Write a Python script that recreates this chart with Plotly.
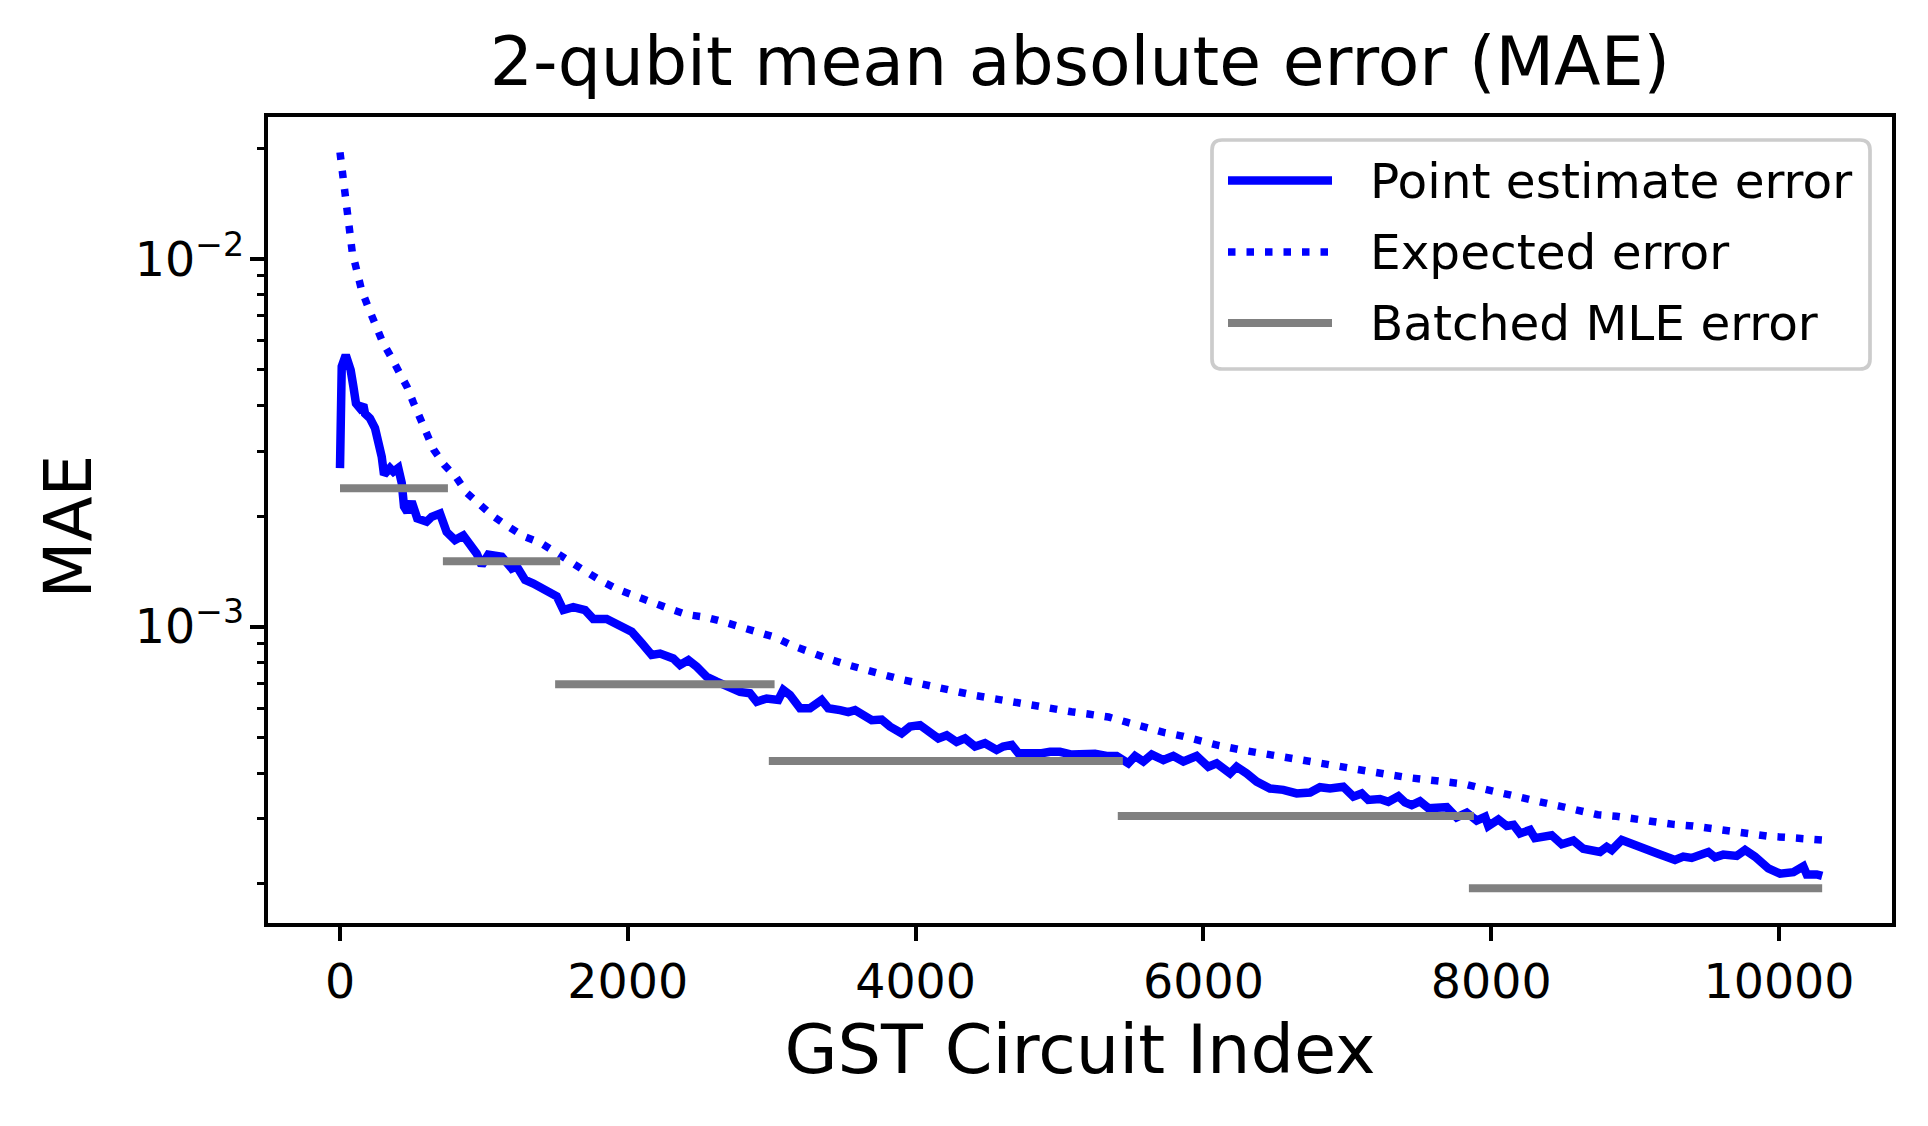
import plotly.graph_objects as go

# ---------------- data ----------------
pe_x = [0, 12, 40, 58, 74, 93, 111, 139, 162, 174, 208, 243, 266, 290, 306, 347, 371, 405,
        429, 445, 468, 498, 537, 602, 637, 695, 741, 799, 857, 892, 950, 985, 1031, 1124,
        1193, 1228, 1286, 1344, 1436, 1506, 1552, 1621, 1703, 1760, 1853, 1946, 2027, 2097,
        2166, 2224, 2316, 2363, 2421, 2479, 2548, 2618, 2710, 2780, 2849, 2896, 2965, 3046,
        3081, 3127, 3197, 3266, 3347, 3393, 3475, 3532, 3579, 3637, 3695, 3764, 3822, 3903,
        3961, 4031, 4088, 4158, 4216, 4285, 4343, 4413, 4482, 4563, 4609, 4668, 4714, 4795,
        4876, 4934, 5003, 5085, 5166, 5247, 5328, 5397, 5478, 5525, 5583, 5641, 5722, 5791,
        5861, 5953, 6034, 6092, 6185, 6231, 6301, 6370, 6463, 6555, 6648, 6741, 6810, 6880,
        6972, 7042, 7100, 7146, 7227, 7285, 7355, 7401, 7448, 7505, 7563, 7621, 7691, 7760,
        7830, 7899, 7957, 7980, 8050, 8108, 8155, 8200, 8270, 8304, 8420, 8490, 8571, 8640,
        8756, 8803, 8838, 8907, 8988, 9081, 9150, 9277, 9335, 9393, 9474, 9509, 9555, 9613,
        9706, 9764, 9833, 9880, 9926, 10007, 10100, 10169, 10193, 10262, 10300]
pe_y = [2.70e-3, 5.10e-3, 5.48e-3, 5.20e-3, 4.99e-3, 4.50e-3, 4.05e-3, 3.93e-3, 4.01e-3,
        3.80e-3, 3.69e-3, 3.47e-3, 3.22e-3, 2.90e-3, 2.59e-3, 2.70e-3, 2.64e-3, 2.70e-3,
        2.46e-3, 2.12e-3, 2.05e-3, 2.19e-3, 1.97e-3, 1.93e-3, 1.99e-3, 2.03e-3, 1.81e-3,
        1.72e-3, 1.77e-3, 1.69e-3, 1.58e-3, 1.47e-3, 1.57e-3, 1.55e-3, 1.44e-3, 1.46e-3,
        1.34e-3, 1.31e-3, 1.26e-3, 1.21e-3, 1.11e-3, 1.13e-3, 1.11e-3, 1.05e-3, 1.05e-3,
        1.00e-3, 9.69e-4, 9.02e-4, 8.38e-4, 8.45e-4, 8.20e-4, 7.87e-4, 8.11e-4, 7.78e-4,
        7.31e-4, 7.09e-4, 6.79e-4, 6.65e-4, 6.59e-4, 6.25e-4, 6.38e-4, 6.32e-4, 6.73e-4,
        6.52e-4, 6.00e-4, 6.00e-4, 6.32e-4, 6.00e-4, 5.93e-4, 5.86e-4, 5.93e-4, 5.75e-4,
        5.57e-4, 5.59e-4, 5.35e-4, 5.13e-4, 5.35e-4, 5.40e-4, 5.18e-4, 4.97e-4, 5.07e-4,
        4.86e-4, 4.97e-4, 4.72e-4, 4.82e-4, 4.62e-4, 4.72e-4, 4.77e-4, 4.53e-4, 4.52e-4,
        4.53e-4, 4.57e-4, 4.57e-4, 4.49e-4, 4.49e-4, 4.51e-4, 4.45e-4, 4.45e-4, 4.25e-4,
        4.45e-4, 4.30e-4, 4.49e-4, 4.34e-4, 4.45e-4, 4.30e-4, 4.45e-4, 4.16e-4, 4.25e-4,
        3.99e-4, 4.16e-4, 3.99e-4, 3.79e-4, 3.63e-4, 3.60e-4, 3.52e-4, 3.54e-4, 3.66e-4,
        3.63e-4, 3.67e-4, 3.45e-4, 3.52e-4, 3.38e-4, 3.40e-4, 3.34e-4, 3.46e-4, 3.33e-4,
        3.27e-4, 3.35e-4, 3.21e-4, 3.20e-4, 3.23e-4, 3.03e-4, 3.12e-4, 2.97e-4, 3.04e-4,
        2.87e-4, 2.99e-4, 2.87e-4, 2.89e-4, 2.74e-4, 2.80e-4, 2.66e-4, 2.71e-4, 2.56e-4,
        2.62e-4, 2.49e-4, 2.44e-4, 2.52e-4, 2.47e-4, 2.63e-4, 2.55e-4, 2.49e-4, 2.42e-4,
        2.32e-4, 2.37e-4, 2.35e-4, 2.40e-4, 2.44e-4, 2.36e-4, 2.40e-4, 2.38e-4, 2.47e-4,
        2.37e-4, 2.27e-4, 2.20e-4, 2.13e-4, 2.15e-4, 2.23e-4, 2.12e-4, 2.12e-4, 2.10e-4]

ee_x = [0, 17, 30, 48, 64, 85, 117, 149, 194, 241, 294, 353, 413, 466, 511, 559, 598, 651,
        723, 810, 882, 964, 1062, 1171, 1277, 1394, 1500, 1593, 1712, 1818, 1937, 2057, 2168,
        2287, 2407, 2547, 2667, 2786, 2906, 3026, 3146, 3265, 3397, 3525, 3645, 3784, 3904,
        4024, 4164, 4295, 4423, 4555, 4683, 4822, 4954, 5082, 5210, 5341, 5467, 5595, 5724,
        5853, 5982, 6110, 6239, 6375, 6508, 6644, 6773, 6901, 7030, 7159, 7288, 7417, 7556,
        7692, 7821, 7950, 8079, 8208, 8336, 8476, 8612, 8741, 8870, 8999, 9127, 9267, 9403,
        9532, 9668, 9801, 9937, 10066, 10202, 10300]
ee_y = [1.95e-2, 1.69e-2, 1.50e-2, 1.33e-2, 1.18e-2, 1.045e-2, 9.29e-3, 8.26e-3, 7.43e-3,
        6.62e-3, 5.97e-3, 5.43e-3, 4.93e-3, 4.49e-3, 4.06e-3, 3.66e-3, 3.33e-3, 3.03e-3,
        2.76e-3, 2.54e-3, 2.31e-3, 2.15e-3, 2.00e-3, 1.87e-3, 1.76e-3, 1.69e-3, 1.59e-3,
        1.49e-3, 1.41e-3, 1.33e-3, 1.26e-3, 1.21e-3, 1.16e-3, 1.12e-3, 1.08e-3, 1.06e-3,
        1.03e-3, 1.00e-3, 9.69e-4, 9.35e-4, 8.88e-4, 8.51e-4, 8.17e-4, 7.88e-4, 7.62e-4,
        7.39e-4, 7.18e-4, 6.99e-4, 6.81e-4, 6.65e-4, 6.49e-4, 6.35e-4, 6.22e-4, 6.10e-4,
        5.97e-4, 5.87e-4, 5.78e-4, 5.68e-4, 5.50e-4, 5.32e-4, 5.16e-4, 5.04e-4, 4.88e-4,
        4.75e-4, 4.64e-4, 4.54e-4, 4.46e-4, 4.37e-4, 4.28e-4, 4.20e-4, 4.13e-4, 4.00e-4,
        3.96e-4, 3.89e-4, 3.84e-4, 3.80e-4, 3.73e-4, 3.62e-4, 3.51e-4, 3.41e-4, 3.34e-4,
        3.25e-4, 3.15e-4, 3.08e-4, 3.05e-4, 2.99e-4, 2.94e-4, 2.90e-4, 2.87e-4, 2.82e-4,
        2.79e-4, 2.75e-4, 2.69e-4, 2.67e-4, 2.65e-4, 2.63e-4]

batch_start = [0, 715, 1495, 2980, 5405, 7845]
batch_end = [750, 1530, 3020, 5440, 7880, 10300]
batch_mae = [2.38e-3, 1.507e-3, 6.97e-4, 4.31e-4, 3.055e-4, 1.945e-4]

x_tick_vals = [0, 2000, 4000, 6000, 8000, 10000]
y_tick_vals = [1e-3, 1e-2]
y_tick_text = ["10<sup>\u22123</sup>", "10<sup>\u22122</sup>"]
y_minor_vals = [m * 10.0 ** e for e in (-4, -3) for m in range(2, 10)] + [2e-2]

legend_labels = ["Point estimate error", "Expected error", "Batched MLE error"]

title_text = "2-qubit mean absolute error (MAE)"
x_title = "GST Circuit Index"
y_title = "MAE"

# ---------------- layout geometry ----------------
# the page body has an 8px margin, so the figure is drawn 8px in from the window corner
OFF = 8
W, H = 1928 - OFF, 1126 - OFF
ML, MR, MT, MB = 268 - OFF, 36, 117 - OFF, 203
PW, PH = W - ML - MR, H - MT - MB

# pixel calibration of the reference axes (figure coordinates)
X0_PX, X_PX_PER_UNIT = 340.0 - OFF, 0.1439
Y_M2_PX, DECADE_PX = 259.0 - OFF, 367.7

x_range = [(ML - X0_PX) / X_PX_PER_UNIT, (W - MR - X0_PX) / X_PX_PER_UNIT]
y_range = [-2 - ((H - MB) - Y_M2_PX) / DECADE_PX, -2 + (Y_M2_PX - MT) / DECADE_PX]


def xp(px):
    """reference-window pixel x -> paper fraction"""
    return (px - OFF - ML) / PW


def yp(py):
    """reference-window pixel y -> paper fraction"""
    return 1 - (py - OFF - MT) / PH


FONT = "DejaVu Sans"
BLUE = "#0000ff"
GRAY = "#808080"
SOLID_W, DOT_W, BAR_W = 8.5, 7.5, 8
DOT = "7.5px,11px"

bx, by = [], []
for s, e, v in zip(batch_start, batch_end, batch_mae):
    bx += [s, e, None]
    by += [v, v, None]

fig = go.Figure()
fig.add_trace(go.Scatter(x=pe_x, y=pe_y, mode="lines", name=legend_labels[0],
                         line=dict(color=BLUE, width=SOLID_W), showlegend=False))
fig.add_trace(go.Scatter(x=ee_x, y=ee_y, mode="lines", name=legend_labels[1],
                         line=dict(color=BLUE, width=DOT_W, dash=DOT), showlegend=False))
fig.add_trace(go.Scatter(x=bx, y=by, mode="lines", name=legend_labels[2],
                         line=dict(color=GRAY, width=BAR_W), showlegend=False,
                         connectgaps=False))

# ---------------- manual legend (matplotlib style), reference pixel coords ----------------
lx0, lx1, ly0, ly1, r = 1212, 1870, 140, 369, 10
path = (f"M {xp(lx0 + r)} {yp(ly0)} L {xp(lx1 - r)} {yp(ly0)} "
        f"Q {xp(lx1)} {yp(ly0)} {xp(lx1)} {yp(ly0 + r)} "
        f"L {xp(lx1)} {yp(ly1 - r)} Q {xp(lx1)} {yp(ly1)} {xp(lx1 - r)} {yp(ly1)} "
        f"L {xp(lx0 + r)} {yp(ly1)} Q {xp(lx0)} {yp(ly1)} {xp(lx0)} {yp(ly1 - r)} "
        f"L {xp(lx0)} {yp(ly0 + r)} Q {xp(lx0)} {yp(ly0)} {xp(lx0 + r)} {yp(ly0)} Z")
shapes = [dict(type="path", xref="paper", yref="paper", path=path,
               line=dict(color="#cccccc", width=3.7), fillcolor="rgba(255,255,255,0.8)",
               layer="above")]
rows = [180.5, 252, 323]
styles = [dict(color=BLUE, width=SOLID_W), dict(color=BLUE, width=DOT_W, dash=DOT),
          dict(color=GRAY, width=BAR_W)]
annotations = []
for row, sty, lab in zip(rows, styles, legend_labels):
    shapes.append(dict(type="line", xref="paper", yref="paper",
                       x0=xp(1228), x1=xp(1332), y0=yp(row), y1=yp(row),
                       line=sty, layer="above"))
    annotations.append(dict(text=lab, xref="paper", yref="paper", x=xp(1368.5), y=yp(row),
                            xanchor="left", yanchor="middle", showarrow=False,
                            borderpad=0, font=dict(family=FONT, size=48.5, color="black")))

# y-axis label, placed like matplotlib's (centre of the glyphs at x=68, y=526.5)
annotations.append(dict(text=y_title, xref="paper", yref="paper", x=xp(68), y=yp(526.5),
                        xanchor="center", yanchor="middle", textangle=-90, showarrow=False,
                        borderpad=0, font=dict(family=FONT, size=66, color="black")))

axis_common = dict(showline=True, linecolor="black", linewidth=3.72, mirror=True,
                   ticks="outside", ticklen=14.4, tickwidth=3.72, tickcolor="black",
                   showgrid=False, zeroline=False,
                   tickfont=dict(family=FONT, size=47.5, color="black"))

fig.update_layout(
    width=W, height=H,
    margin=dict(l=ML, r=MR, t=MT, b=MB, pad=0),
    plot_bgcolor="white", paper_bgcolor="white",
    font=dict(family=FONT, color="black"),
    title=dict(text=title_text, x=0.5, xref="paper", xanchor="center",
               y=1 - (63 - OFF - 2) / H, yref="container", yanchor="middle",
               font=dict(family=FONT, size=68, color="black")),
    xaxis=dict(range=x_range, tickmode="array", tickvals=x_tick_vals,
               ticktext=[str(v) for v in x_tick_vals],
               title=dict(text=x_title, standoff=18,
                          font=dict(family=FONT, size=68.5, color="black")),
               **axis_common),
    yaxis=dict(type="log", range=y_range, tickmode="array", tickvals=y_tick_vals,
               ticktext=y_tick_text, ticklabelstandoff=-4,
               minor=dict(tickmode="array", tickvals=y_minor_vals, ticks="outside",
                          ticklen=7.4, tickwidth=2.79, tickcolor="black", showgrid=False),
               **axis_common),
    shapes=shapes,
    annotations=annotations,
    showlegend=False,
)

fig.write_html("out.html")
